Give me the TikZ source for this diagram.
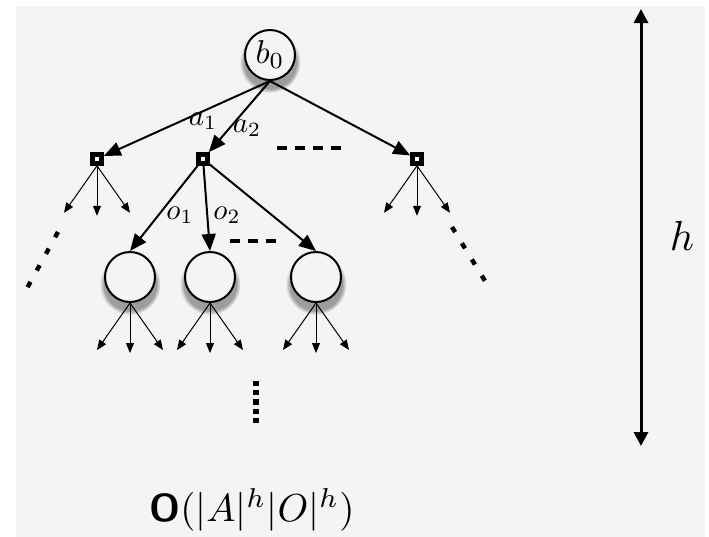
\documentclass[tikz,border=0pt]{standalone}
\usepackage{amsmath,amssymb}
\usepackage{tikz}
\usetikzlibrary{arrows.meta,shadows,calc}
\definecolor{bggray}{RGB}{244,244,244}

\begin{document}
\begin{tikzpicture}[x=0.5pt,y=-0.5pt,
    belief/.style={circle,draw,line width=1pt,fill=bggray,minimum size=25pt,inner sep=0pt,
        circular drop shadow={shadow xshift=0pt,shadow yshift=-3pt,shadow scale=1.22,opacity=0.75}},
    act/.style={rectangle,draw,line width=2.4pt,fill=white,minimum size=4.4pt,inner sep=0pt},
    edge/.style={line width=1pt,-{Triangle[length=8.5pt,width=7pt]}},
    twig/.style={line width=0.5pt,-{Triangle[length=5pt,width=4pt]}},
    lbl/.style={scale=1.45},
    dashline/.style={line width=2pt,dash pattern=on 5pt off 4pt},
    dotline/.style={line width=2.2pt,dash pattern=on 3pt off 6.5pt}]
        \useasboundingbox (0,0) rectangle (709,537);
        \fill[bggray](16,6)rectangle(705,537);
        % belief nodes
        \node[belief](b0)at(270,55){\scalebox{1.65}{$b_0$}};
        \node[belief](o1)at(130,277){};
        \node[belief](o2)at(210,277){};
        \node[belief](o3)at(316,277){};
        % action nodes
        \node[act](a1)at(97,159){};
        \node[act](a2)at(203,159){};
        \node[act](a3)at(417,159){};
        % actions
        \draw[edge](b0.south)to(a1);
        \draw[edge](b0.south)to(a2);
        \draw[edge](b0.south)to(a3);
        \node[lbl](la1)at(203,121){$a_1$};
        \node[lbl](la2)at(247,128){$a_2$};
        % observations
        \draw[edge](a2)to(o1.north);
        \draw[edge](a2)to(o2.north);
        \draw[edge](a2)to(o3.north);
        \node[lbl](lo1)at(180,215){$o_1$};
        \node[lbl](lo2)at(227,215){$o_2$};
        % small branches
        \foreach \n in {a1,a3,o1,o2,o3}
        {
        \draw[twig](\n.south)--++(-33,47)coordinate(\n-l);
        \draw[twig](\n.south)--++(0,50)coordinate(\n-m);
        \draw[twig](\n.south)--++(33,47)coordinate(\n-r);
        }
        % dots
        \coordinate(d1)at(277,148);
        \coordinate(d2)at(343,148);
        \coordinate(d3)at(230,241);
        \coordinate(d4)at(277,241);
        \draw[dashline](d1)--(d2);
        \draw[dashline](d3)--(d4);
        \coordinate(d5)at(58,232);
        \coordinate(d6)at(26,290);
        \coordinate(d7)at(452,227);
        \coordinate(d8)at(485,281);
        \draw[dotline](d5)--(d6);
        \draw[dotline](d7)--(d8);
        \coordinate(d9)at(256,381);
        \coordinate(d10)at(256,424);
        \draw[line width=3pt,dash pattern=on 2.6pt off 2pt](d9)--(d10);
        % depth
        \coordinate(top)at(641,9);
        \coordinate(bot)at(641,446);
        \draw[line width=1.5pt,{Triangle[length=7pt,width=7pt]}-{Triangle[length=7pt,width=7pt]}](top)--(bot);
        \node[scale=2.1](h)at(682,236){$h$};
        % complexity
        \node[scale=1.95](cplx)at(252,510){\textbf{\textsf{O}}$(|A|^h|O|^h)$};
\end{tikzpicture}
\end{document}
